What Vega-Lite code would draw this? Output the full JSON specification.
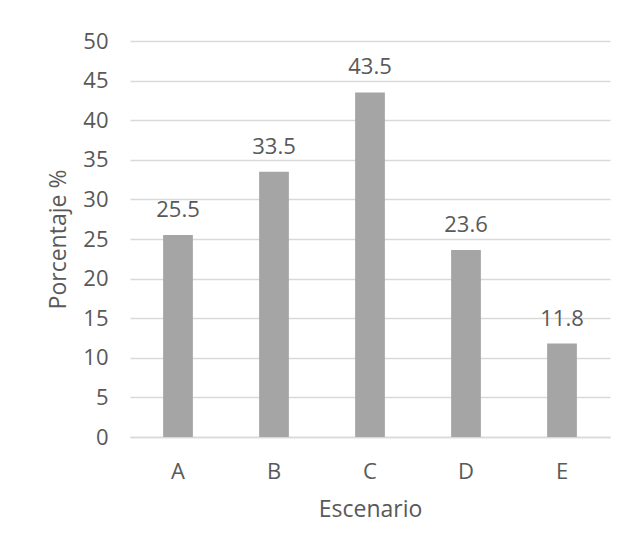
{
  "$schema": "https://vega.github.io/schema/vega-lite/v6.json",
  "width": 480,
  "height": 396,
  "autosize": {"type": "none"},
  "padding": {"left": 130, "top": 41, "right": 19, "bottom": 113},
  "background": "#ffffff",
  "config": {
    "view": {"stroke": null},
    "font": "Open Sans",
    "axis": {
      "labelFont": "Open Sans",
      "titleFont": "Open Sans",
      "labelColor": "#595959",
      "titleColor": "#595959",
      "labelFontSize": 22,
      "titleFontSize": 23,
      "titleFontWeight": "normal",
      "ticks": false
    }
  },
  "data": {
    "values": [
      {"Escenario": "A", "Porcentaje": 25.5},
      {"Escenario": "B", "Porcentaje": 33.5},
      {"Escenario": "C", "Porcentaje": 43.5},
      {"Escenario": "D", "Porcentaje": 23.6},
      {"Escenario": "E", "Porcentaje": 11.8}
    ]
  },
  "encoding": {
    "x": {
      "field": "Escenario",
      "type": "nominal",
      "scale": {"paddingInner": 0.69, "paddingOuter": 0.345},
      "axis": {
        "labelAngle": 0,
        "domainColor": "#d9d9d9",
        "domainWidth": 1.5,
        "labelPadding": 24,
        "titlePadding": 16,
        "title": "Escenario"
      }
    },
    "y": {
      "field": "Porcentaje",
      "type": "quantitative",
      "scale": {"domain": [0, 50], "nice": false},
      "axis": {
        "values": [0, 5, 10, 15, 20, 25, 30, 35, 40, 45, 50],
        "domain": false,
        "gridColor": "#d9d9d9",
        "gridWidth": 1.5,
        "labelPadding": 22,
        "titlePadding": 12,
        "title": "Porcentaje %"
      }
    }
  },
  "layer": [
    {"mark": {"type": "bar", "color": "#a5a5a5"}},
    {
      "mark": {"type": "text", "baseline": "alphabetic", "dy": -18, "fontSize": 22, "color": "#595959", "font": "Open Sans"},
      "encoding": {"text": {"field": "Porcentaje", "type": "quantitative", "format": ".1f"}}
    }
  ]
}
